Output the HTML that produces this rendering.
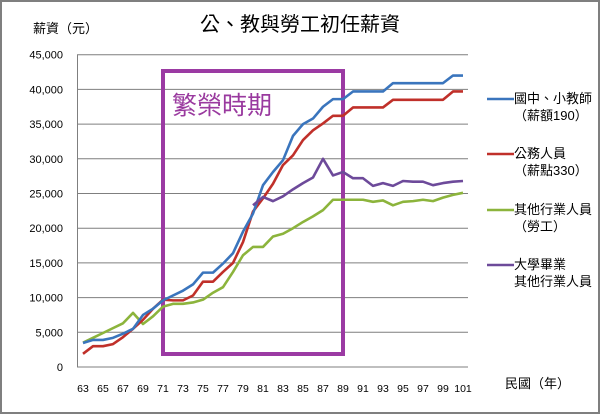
<!DOCTYPE html>
<html><head><meta charset="utf-8"><style>
html,body{margin:0;padding:0;background:#fff}
svg{display:block}
text{font-family:"Liberation Sans","Noto Sans CJK TC",sans-serif}
</style></head><body>
<svg id="chart" width="600" height="414" viewBox="0 0 600 414">
<rect x="1" y="1" width="598" height="412" fill="#fff" stroke="#7f7f7f" stroke-width="2"/>
<text x="300" y="31" text-anchor="middle" font-size="20" fill="#000" font-family="'Noto Serif CJK SC',serif">公、教與勞工初任薪資</text>
<text x="33" y="33" font-size="13" fill="#000">薪資（元）</text>
<text x="505" y="388" font-size="13" fill="#000">民國（年）</text>
<g id="grid"></g>
<g id="box"></g>
<g id="series"></g>
<g id="legend"></g>
</svg>
<script>
const years = [];
for (let y = 63; y <= 101; y++) years.push(y);
const teacher = [3460,3900,3900,4200,4800,5500,7500,8400,9600,10300,11000,11900,13600,13600,14900,16400,19500,22100,26200,28100,29800,33300,35000,35800,37500,38600,38600,39700,39700,39700,39700,40900,40900,40900,40900,40900,40900,42000,42000];
const civil = [1900,3000,3000,3300,4300,5500,6800,8400,9700,9600,9600,10300,12300,12300,13700,15000,18000,22400,24300,26400,29100,30500,32700,34100,35100,36200,36200,37400,37400,37400,37400,38500,38500,38500,38500,38500,38500,39700,39700];
const labor = [3500,4200,4900,5600,6300,7800,6200,7300,8700,9100,9100,9300,9700,10700,11500,13700,16100,17300,17300,18800,19200,20000,20900,21700,22600,24100,24100,24100,24100,23800,24000,23300,23800,23900,24100,23900,24400,24800,25100];
const gradYears = [80,81,82,83,84,85,86,87,88,89,90,91,92,93,94,95,96,97,98,99,100,101];
const graduate = [23300,24500,23900,24600,25600,26500,27300,30000,27600,28100,27200,27200,26100,26500,26100,26800,26700,26700,26200,26500,26700,26800];
const yTicks = [0,5000,10000,15000,20000,25000,30000,35000,40000,45000];
const xTickYears = [63,65,67,69,71,73,75,77,79,81,83,85,87,89,91,93,95,97,99,101];
const boomStart = 71, boomEnd = 89;

const NS = 'http://www.w3.org/2000/svg';
const X = yr => 83 + (yr - 63) * 10;
const Y = v => 367 - v / 5000 * 34.7;
function mk(tag, attrs, parent){ const e=document.createElementNS(NS,tag); for(const k in attrs) e.setAttribute(k,attrs[k]); parent.appendChild(e); return e; }
const grid=document.getElementById('grid');
yTicks.forEach(v=>{
  if(v>0){
    const l=mk('line',{x1:77,x2:468,y1:Y(v),y2:Y(v),stroke:'#7f7f7f','stroke-width':1},grid);
    
    
  }
  const t=mk('text',{x:63,y:Y(v)+4,'text-anchor':'end','font-size':11,fill:'#000'},grid);
  t.textContent=v.toLocaleString('en-US');
  
  
});
const ax=mk('line',{x1:77,x2:468,y1:367,y2:367,stroke:'#7f7f7f','stroke-width':1},grid);


const ay=mk('line',{x1:77.5,x2:77.5,y1:Y(45000),y2:367,stroke:'#7f7f7f','stroke-width':1},grid);


xTickYears.forEach(yr=>{
  const t=mk('text',{x:X(yr),y:392,'text-anchor':'middle','font-size':10.5,fill:'#000'},grid);
  t.textContent=yr;
  
  
});
const box=document.getElementById('box');
const r=mk('rect',{x:X(boomStart),y:71,width:X(boomEnd)-X(boomStart),height:283,fill:'none',stroke:'#9b3aa3','stroke-width':4},box);


const bt=mk('text',{x:X(boomStart)+9,y:114,'font-size':25,fill:'#9a3a9f','font-family':"'Noto Sans CJK TC',sans-serif"},box);
bt.textContent='繁榮時期';



const ser=document.getElementById('series');
function line(xs,vs,color,name){
  const p=mk('polyline',{points:xs.map((yr,i)=>X(yr)+','+Y(vs[i])).join(' '),fill:'none',stroke:color,'stroke-width':2.6,'stroke-linejoin':'round'},ser);
  
  
}
line(years,labor,'#8cb43c','line-labor');
line(years,civil,'#c0302a','line-civil-servant');
line(years,teacher,'#3a75bd','line-teacher');
line(gradYears,graduate,'#6d4a9a','line-graduate');

const lg=document.getElementById('legend');
const items=[['#3a75bd','國中、小教師','（薪額190）',103,'legend-teacher'],['#c0302a','公務人員','（薪點330）',158,'legend-civil-servant'],['#8cb43c','其他行業人員','（勞工）',214,'legend-labor'],['#6d4a9a','大學畢業','其他行業人員',269,'legend-graduate']];
items.forEach(([c,a,b,y,n])=>{
  const g=mk('g',{},lg);
  
  
  mk('line',{x1:487,x2:514,y1:y-4,y2:y-4,stroke:c,'stroke-width':2.6},g);
  const t1=mk('text',{x:514,y:y,'font-size':13,fill:'#000'},g); t1.textContent=a;
  const t2=mk('text',{x:514,y:y+17,'font-size':13,fill:'#000'},g); t2.textContent=b;
});
</script>
</body></html>
